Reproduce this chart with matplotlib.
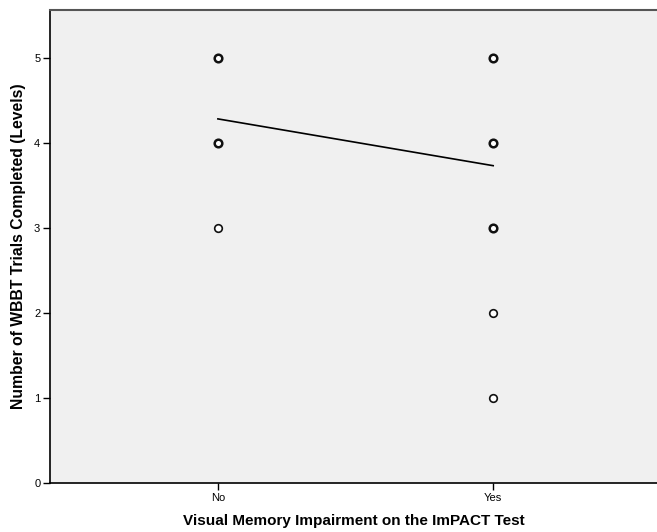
import matplotlib
matplotlib.use("Agg")
import matplotlib.pyplot as plt

plt.rcParams['font.family'] = ['Liberation Sans', 'DejaVu Sans']

categories = ["No", "Yes"]
no_levels = [3, 4, 5]
no_counts = [1, 2, 2]
yes_levels = [1, 2, 3, 4, 5]
yes_counts = [1, 1, 2, 2, 2]
fit_values = [4.28, 3.73]
y_ticks = [0, 1, 2, 3, 4, 5]

fig = plt.figure(figsize=(6.57, 5.32), dpi=100)
ax = fig.add_axes([50/657, 49/532, 1 - 50/657 + 0.002, (483-10)/532])
ax.set_facecolor('#F0F0F0')

for xi, levels, counts in [(0, no_levels, no_counts), (1, yes_levels, yes_counts)]:
    for lv, c in zip(levels, counts):
        ax.scatter([xi], [lv], s=30, facecolors='white', edgecolors='#111111',
                   linewidths=1.2 if c == 1 else 1.8, zorder=3)

ax.plot([0, 1], fit_values, color='black', linewidth=1.2, zorder=2)

ax.set_xlim(-0.61, 1.6)
ax.set_ylim(0, 5.56)
ax.set_xticks([0, 1])
ax.set_xticklabels(categories, fontsize=8)
ax.set_yticks(y_ticks)
ax.set_yticklabels([str(t) for t in y_ticks], fontsize=8)
ax.tick_params(direction='out', length=5, width=1, pad=2)

ax.spines['right'].set_visible(False)
ax.spines['top'].set_color('#555555')
ax.spines['top'].set_linewidth(1.5)
for s in ['left', 'bottom']:
    ax.spines[s].set_linewidth(1.2)

ax.set_xlabel('Visual Memory Impairment on the ImPACT Test', fontsize=11, fontweight='bold', labelpad=8)
ax.set_ylabel('Number of WBBT Trials Completed (Levels)', fontsize=11.3, fontweight='bold', labelpad=6)

fig.savefig('out.png', dpi=100)
